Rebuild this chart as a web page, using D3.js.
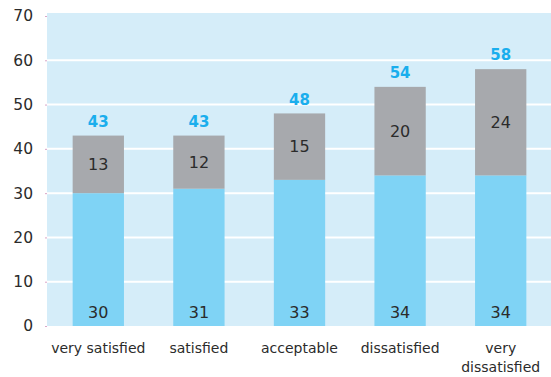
<!DOCTYPE html>
<html><head><meta charset="utf-8">
<script src="https://cdn.jsdelivr.net/npm/d3@7"></script>
<style>body{margin:0;background:#fff;} svg{display:block;}</style>
</head><body>
<svg id="c" width="551" height="377"></svg>
<script>
const categories = ["very satisfied", "satisfied", "acceptable", "dissatisfied", "very dissatisfied"];
const lowerValues = [30, 31, 33, 34, 34];
const upperValues = [13, 12, 15, 20, 24];
const totals = [43, 43, 48, 54, 58];
const yTicks = [0, 10, 20, 30, 40, 50, 60, 70];

const svg = d3.select("#c");
const x = d3.scaleBand().domain(categories).range([48, 551]).paddingInner(0.49).paddingOuter(0.245);
const y = d3.scaleLinear().domain([0, 70]).range([326, 16]);
const font = "DejaVu Sans, Verdana, sans-serif";

svg.append("rect").attr("x", 47).attr("y", 13).attr("width", 551 - 47).attr("height", y(0) - 13).attr("fill", "#d5edf9");

const g = svg.append("g");
g.selectAll("line.grid").data(yTicks.filter(d => d > 0 && d < 70)).join("line")
  .attr("x1", 47).attr("x2", 551).attr("y1", d => y(d)).attr("y2", d => y(d))
  .attr("stroke", "#fff").attr("stroke-width", 2);

const yAxis = d3.axisLeft(y).tickValues(yTicks).tickSize(2).tickPadding(12);
const ya = svg.append("g").attr("transform", "translate(47,0)").call(yAxis);
ya.select(".domain").remove();
ya.selectAll(".tick line").attr("stroke", "#d9a6c8");
ya.selectAll(".tick text").attr("font-family", font).attr("font-size", 15.5).attr("fill", "#2b2b2b");

svg.selectAll("rect.low").data(categories).join("rect")
  .attr("x", d => x(d)).attr("width", x.bandwidth())
  .attr("y", (d, i) => y(lowerValues[i])).attr("height", (d, i) => y(0) - y(lowerValues[i]))
  .attr("fill", "#7fd3f5");
svg.selectAll("rect.up").data(categories).join("rect")
  .attr("x", d => x(d)).attr("width", x.bandwidth())
  .attr("y", (d, i) => y(lowerValues[i] + upperValues[i])).attr("height", (d, i) => y(lowerValues[i]) - y(lowerValues[i] + upperValues[i]))
  .attr("fill", "#a7a9ad");

svg.selectAll("text.low").data(categories).join("text")
  .attr("x", d => x(d) + x.bandwidth() / 2).attr("y", y(0) - 14)
  .attr("dy", "0.35em").attr("text-anchor", "middle")
  .attr("font-family", font).attr("font-size", 16).attr("fill", "#2b2b2b")
  .text((d, i) => lowerValues[i]);
svg.selectAll("text.up").data(categories).join("text")
  .attr("x", d => x(d) + x.bandwidth() / 2).attr("y", (d, i) => y(lowerValues[i] + upperValues[i] / 2))
  .attr("dy", "0.35em").attr("text-anchor", "middle")
  .attr("font-family", font).attr("font-size", 16).attr("fill", "#2b2b2b")
  .text((d, i) => upperValues[i]);
svg.selectAll("text.tot").data(categories).join("text")
  .attr("x", d => x(d) + x.bandwidth() / 2).attr("y", (d, i) => y(totals[i]) - 14)
  .attr("dy", "0.35em").attr("text-anchor", "middle")
  .attr("font-family", font).attr("font-weight", "bold").attr("font-size", 15).attr("fill", "#1aaeed")
  .text((d, i) => totals[i]);

const xAxis = d3.axisBottom(x).tickSize(0).tickPadding(0);
const xa = svg.append("g").attr("transform", "translate(0,326)").call(xAxis);
xa.select(".domain").remove();
xa.selectAll(".tick text").attr("font-family", font).attr("font-size", 14).attr("fill", "#2b2b2b")
  .each(function(d) {
    const t = d3.select(this); t.text(null);
    const lines = d === "very dissatisfied" ? ["very", "dissatisfied"] : [d];
    lines.forEach((l, k) => t.append("tspan").attr("x", 0).attr("y", 22 + k * 19).attr("dy", "0.35em").text(l));
  });
</script>
</body></html>
